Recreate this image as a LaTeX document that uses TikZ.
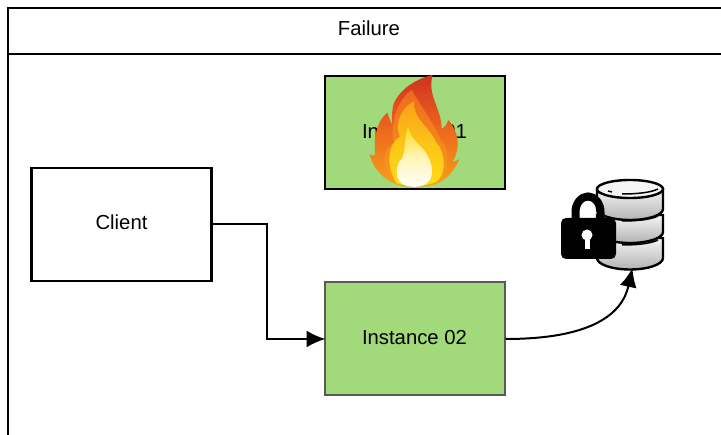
\documentclass[tikz,border=0pt]{standalone}
\usepackage{fontspec}
\setmainfont{Liberation Sans}
\usetikzlibrary{arrows.meta}
\definecolor{instgreen}{HTML}{A1D97B}
\definecolor{flamered}{HTML}{D0301F}
\definecolor{flameorange}{HTML}{EE6A1E}
\definecolor{flameamber}{HTML}{F8A01A}
\definecolor{flameyellow}{HTML}{FFDD17}
\tikzset{
  box/.style={draw=black,line width=2.2pt,minimum width=180pt,minimum height=113pt,inner sep=0pt,text depth=4pt,font=\fontsize{20.3}{24}\selectfont},
  instance/.style={box,fill=instgreen,line width=2pt},
  link/.style={draw=black,line width=2pt,shorten >=-2pt,-{Latex[length=19pt,width=17pt]}},
  tier/.style={draw=black,line width=2.4pt,top color=white!92!gray,bottom color=black!30,shading angle=0},
}
\begin{document}
\begin{tikzpicture}[x=1pt,y=-1pt]
\useasboundingbox (0,0) rectangle (721,435);

% frame
\draw[line width=2pt] (8,435) -- (8,8) -- (721,8);
\draw[line width=2pt] (8,54) -- (721,54);
\node[font=\fontsize{20.3}{24}\selectfont] (title) at (369,28) {Failure};

\node[box] (client) at (121.5,224.5) {Client};
\node[instance] (inst1) at (414.5,133) {Instance 01};
\node[instance,draw=black!65] (inst2) at (414.5,339) {Instance 02};

% database
\draw[tier] (597,238) -- (597,258) arc[start angle=180,end angle=0,x radius=33,y radius=11.5] -- (663,238) -- cycle;
\draw[tier] (597,215) -- (597,232) arc[start angle=180,end angle=0,x radius=33,y radius=11] -- (663,215) -- cycle;
\draw[tier] (597,189) -- (597,209) arc[start angle=180,end angle=0,x radius=33,y radius=11] -- (663,189) -- cycle;
\draw[line width=2.4pt,fill=white!92!gray] (630,189) ellipse[x radius=33,y radius=9];
\draw[line width=1.5pt] (608,191) -- (612,192);
\draw[line width=1.5pt] (622,194) .. controls (640,194) and (652,192) .. (658,189);
\draw[line width=1.5pt] (622,221) .. controls (640,221) and (652,219) .. (658,216);
\draw[line width=1.5pt] (622,245) .. controls (640,245) and (652,243) .. (658,240);
\coordinate (db) at (632,270);

% lock
\draw[line width=8pt] (575.5,222) -- (575.5,212) arc[start angle=180,end angle=360,x radius=12.5,y radius=15.5] -- (600.5,222);
\fill[black,rounded corners=5pt] (561,218) rectangle (616,259);
\fill[white] (587,235) circle[radius=5.5];
\fill[white] (584.5,236) rectangle (589.5,249);

% flame
\begin{scope}[shift={(320,65)},scale=0.3333]
\shade[top color=flamered,bottom color=flameamber,middle color=flameorange]
  (338,30) .. controls (290,40) and (235,75) .. (220,120) .. controls (215,140) and (215,165) .. (217,180)
  .. controls (210,165) and (205,155) .. (203,143) .. controls (180,160) and (160,195) .. (165,270)
  .. controls (160,272) and (155,272) .. (148,268) .. controls (160,310) and (190,345) .. (230,358)
  .. controls (260,368) and (310,368) .. (345,358) .. controls (380,345) and (405,315) .. (418,282)
  .. controls (410,288) and (405,290) .. (398,290) .. controls (420,255) and (420,205) .. (385,165)
  .. controls (380,180) and (372,188) .. (365,192) .. controls (365,130) and (320,90) .. (338,30) -- cycle;
\shade[top color=flameorange,bottom color=flameamber]
  (275,75) .. controls (225,110) and (210,190) .. (222,235) .. controls (190,245) and (175,300) .. (230,358)
  .. controls (260,366) and (320,366) .. (350,352) .. controls (395,320) and (385,240) .. (362,225)
  .. controls (345,180) and (300,120) .. (275,75) -- cycle;
\shade[top color=flameamber,bottom color=flameyellow,middle color=flameyellow!60!flameamber]
  (283,108) .. controls (235,135) and (225,185) .. (240,215) .. controls (205,235) and (195,300) .. (230,355)
  .. controls (260,366) and (320,366) .. (350,350) .. controls (385,320) and (370,250) .. (350,235)
  .. controls (330,185) and (275,160) .. (283,108) -- cycle;
\shade[top color=flameyellow,bottom color=white,middle color=flameyellow!30!white]
  (265,185) .. controls (250,220) and (260,255) .. (245,282) .. controls (230,295) and (225,325) .. (238,348)
  .. controls (255,372) and (315,372) .. (330,345) .. controls (345,315) and (330,280) .. (312,255)
  .. controls (292,235) and (270,215) .. (265,185) -- cycle;
\end{scope}

\draw[link] (client.east) -- (267,224.5) -- (267,339) -- (inst2.west);
\draw[link] (inst2.east) .. controls (590,339) and (622,315) .. (db);
\end{tikzpicture}
\end{document}
